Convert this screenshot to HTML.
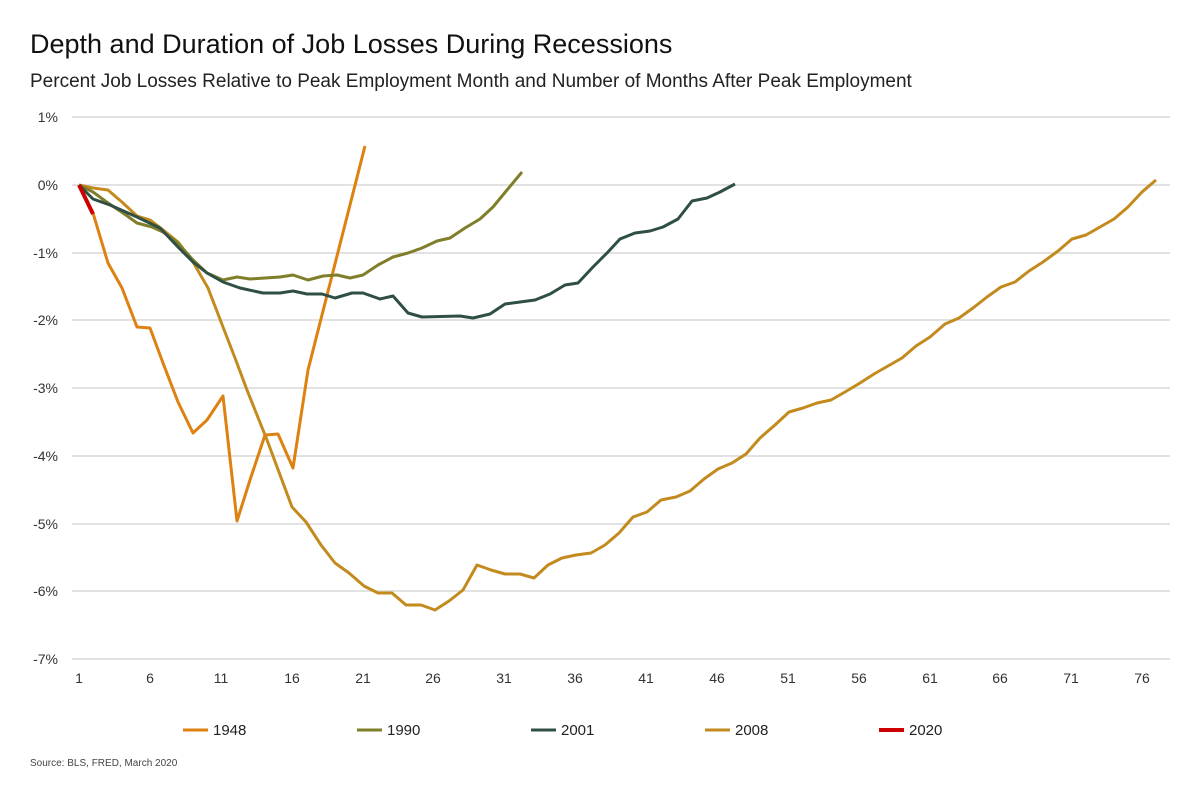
<!DOCTYPE html><html><head><style>body{margin:0;background:#fff;font-family:"Liberation Sans",sans-serif}</style></head><body>
<svg width="1200" height="797" xmlns="http://www.w3.org/2000/svg" font-family="Liberation Sans, sans-serif">
<text x="30" y="53" font-size="27" fill="#111">Depth and Duration of Job Losses During Recessions</text>
<text x="30" y="87" font-size="19" fill="#222">Percent Job Losses Relative to Peak Employment Month and Number of Months After Peak Employment</text>
<g stroke="#d9d9d9" stroke-width="1.5">
<line x1="72" x2="1170" y1="117" y2="117"/><line x1="72" x2="1170" y1="185" y2="185"/><line x1="72" x2="1170" y1="253" y2="253"/><line x1="72" x2="1170" y1="320" y2="320"/><line x1="72" x2="1170" y1="388" y2="388"/><line x1="72" x2="1170" y1="456" y2="456"/><line x1="72" x2="1170" y1="524" y2="524"/><line x1="72" x2="1170" y1="591" y2="591"/><line x1="72" x2="1170" y1="659" y2="659"/>
</g>
<g font-size="14" fill="#333" text-anchor="end">
<text x="58" y="122">1%</text><text x="58" y="190">0%</text><text x="58" y="258">-1%</text><text x="58" y="325">-2%</text><text x="58" y="393">-3%</text><text x="58" y="461">-4%</text><text x="58" y="529">-5%</text><text x="58" y="596">-6%</text><text x="58" y="664">-7%</text>
</g>
<g font-size="14" fill="#333" text-anchor="middle">
<text x="79" y="683">1</text><text x="150" y="683">6</text><text x="221" y="683">11</text><text x="292" y="683">16</text><text x="363" y="683">21</text><text x="433" y="683">26</text><text x="504" y="683">31</text><text x="575" y="683">36</text><text x="646" y="683">41</text><text x="717" y="683">46</text><text x="788" y="683">51</text><text x="859" y="683">56</text><text x="930" y="683">61</text><text x="1000" y="683">66</text><text x="1071" y="683">71</text><text x="1142" y="683">76</text>
</g>
<g fill="none" stroke-width="3" stroke-linejoin="round">
<polyline stroke="#C38B1E" points="79,185 93,188 108,190 123,203 137,216 150,220 163,230 178,242 193,262 208,288 223,327 235,358 247,390 267,440 292,507 306,522 321,545 335,563 349,573 364,586 378,593 392,593 406,605 421,605 435,610 449,601 463,590 477,565 491,570 505,574 520,574 534,578 548,565 562,558 576,555 591,553 605,545 619,533 633,517 647,512 661,500 676,497 690,491 704,479 718,469 732,463 746,454 760,438 775,425 789,412 803,408 817,403 831,400 845,392 860,383 874,374 888,366 902,358 916,346 930,337 945,324 959,318 973,308 987,297 1001,287 1015,282 1029,271 1043,262 1058,251 1072,239 1086,235 1100,227 1114,219 1128,207 1142,192 1156,180"/>
<polyline stroke="#DD8211" points="79,185 93,213 108,263 122,288 137,327 150,328 163,363 178,402 193,433 207,420 223,396 237,521 250,480 265,435 278,434 293,468 308,370 365,146"/>
<polyline stroke="#7F7F2A" points="79,185 93,192 108,203 123,213 137,223 152,227 163,232 178,243 193,260 207,273 223,280 237,277 250,279 265,278 280,277 293,275 308,280 323,276 337,275 350,278 363,275 378,265 393,257 408,253 422,248 437,241 450,238 465,228 480,219 493,207 507,190 522,172"/>
<polyline stroke="#2F4F44" points="79,185 93,199 110,205 137,217 160,228 178,247 193,262 207,273 223,282 240,288 263,293 280,293 293,291 307,294 322,294 335,298 352,293 363,293 380,299 393,296 408,313 422,317 460,316 473,318 490,314 505,304 520,302 535,300 550,294 565,285 578,283 593,267 607,253 620,239 635,233 650,231 663,227 678,219 692,201 707,198 720,192 735,184"/>
<polyline stroke="#CC0000" stroke-width="4" points="79,185 93,214"/>
</g>
<g font-size="15" fill="#222">
<line x1="183" x2="208" y1="730" y2="730" stroke="#DD8211" stroke-width="3"/><text x="213" y="735">1948</text>
<line x1="357" x2="382" y1="730" y2="730" stroke="#7F7F2A" stroke-width="3"/><text x="387" y="735">1990</text>
<line x1="531" x2="556" y1="730" y2="730" stroke="#2F4F44" stroke-width="3"/><text x="561" y="735">2001</text>
<line x1="705" x2="730" y1="730" y2="730" stroke="#C38B1E" stroke-width="3"/><text x="735" y="735">2008</text>
<line x1="879" x2="904" y1="730" y2="730" stroke="#CC0000" stroke-width="4"/><text x="909" y="735">2020</text>
</g>
<text x="30" y="766" font-size="10" fill="#444">Source: BLS, FRED, March 2020</text>
</svg></body></html>
